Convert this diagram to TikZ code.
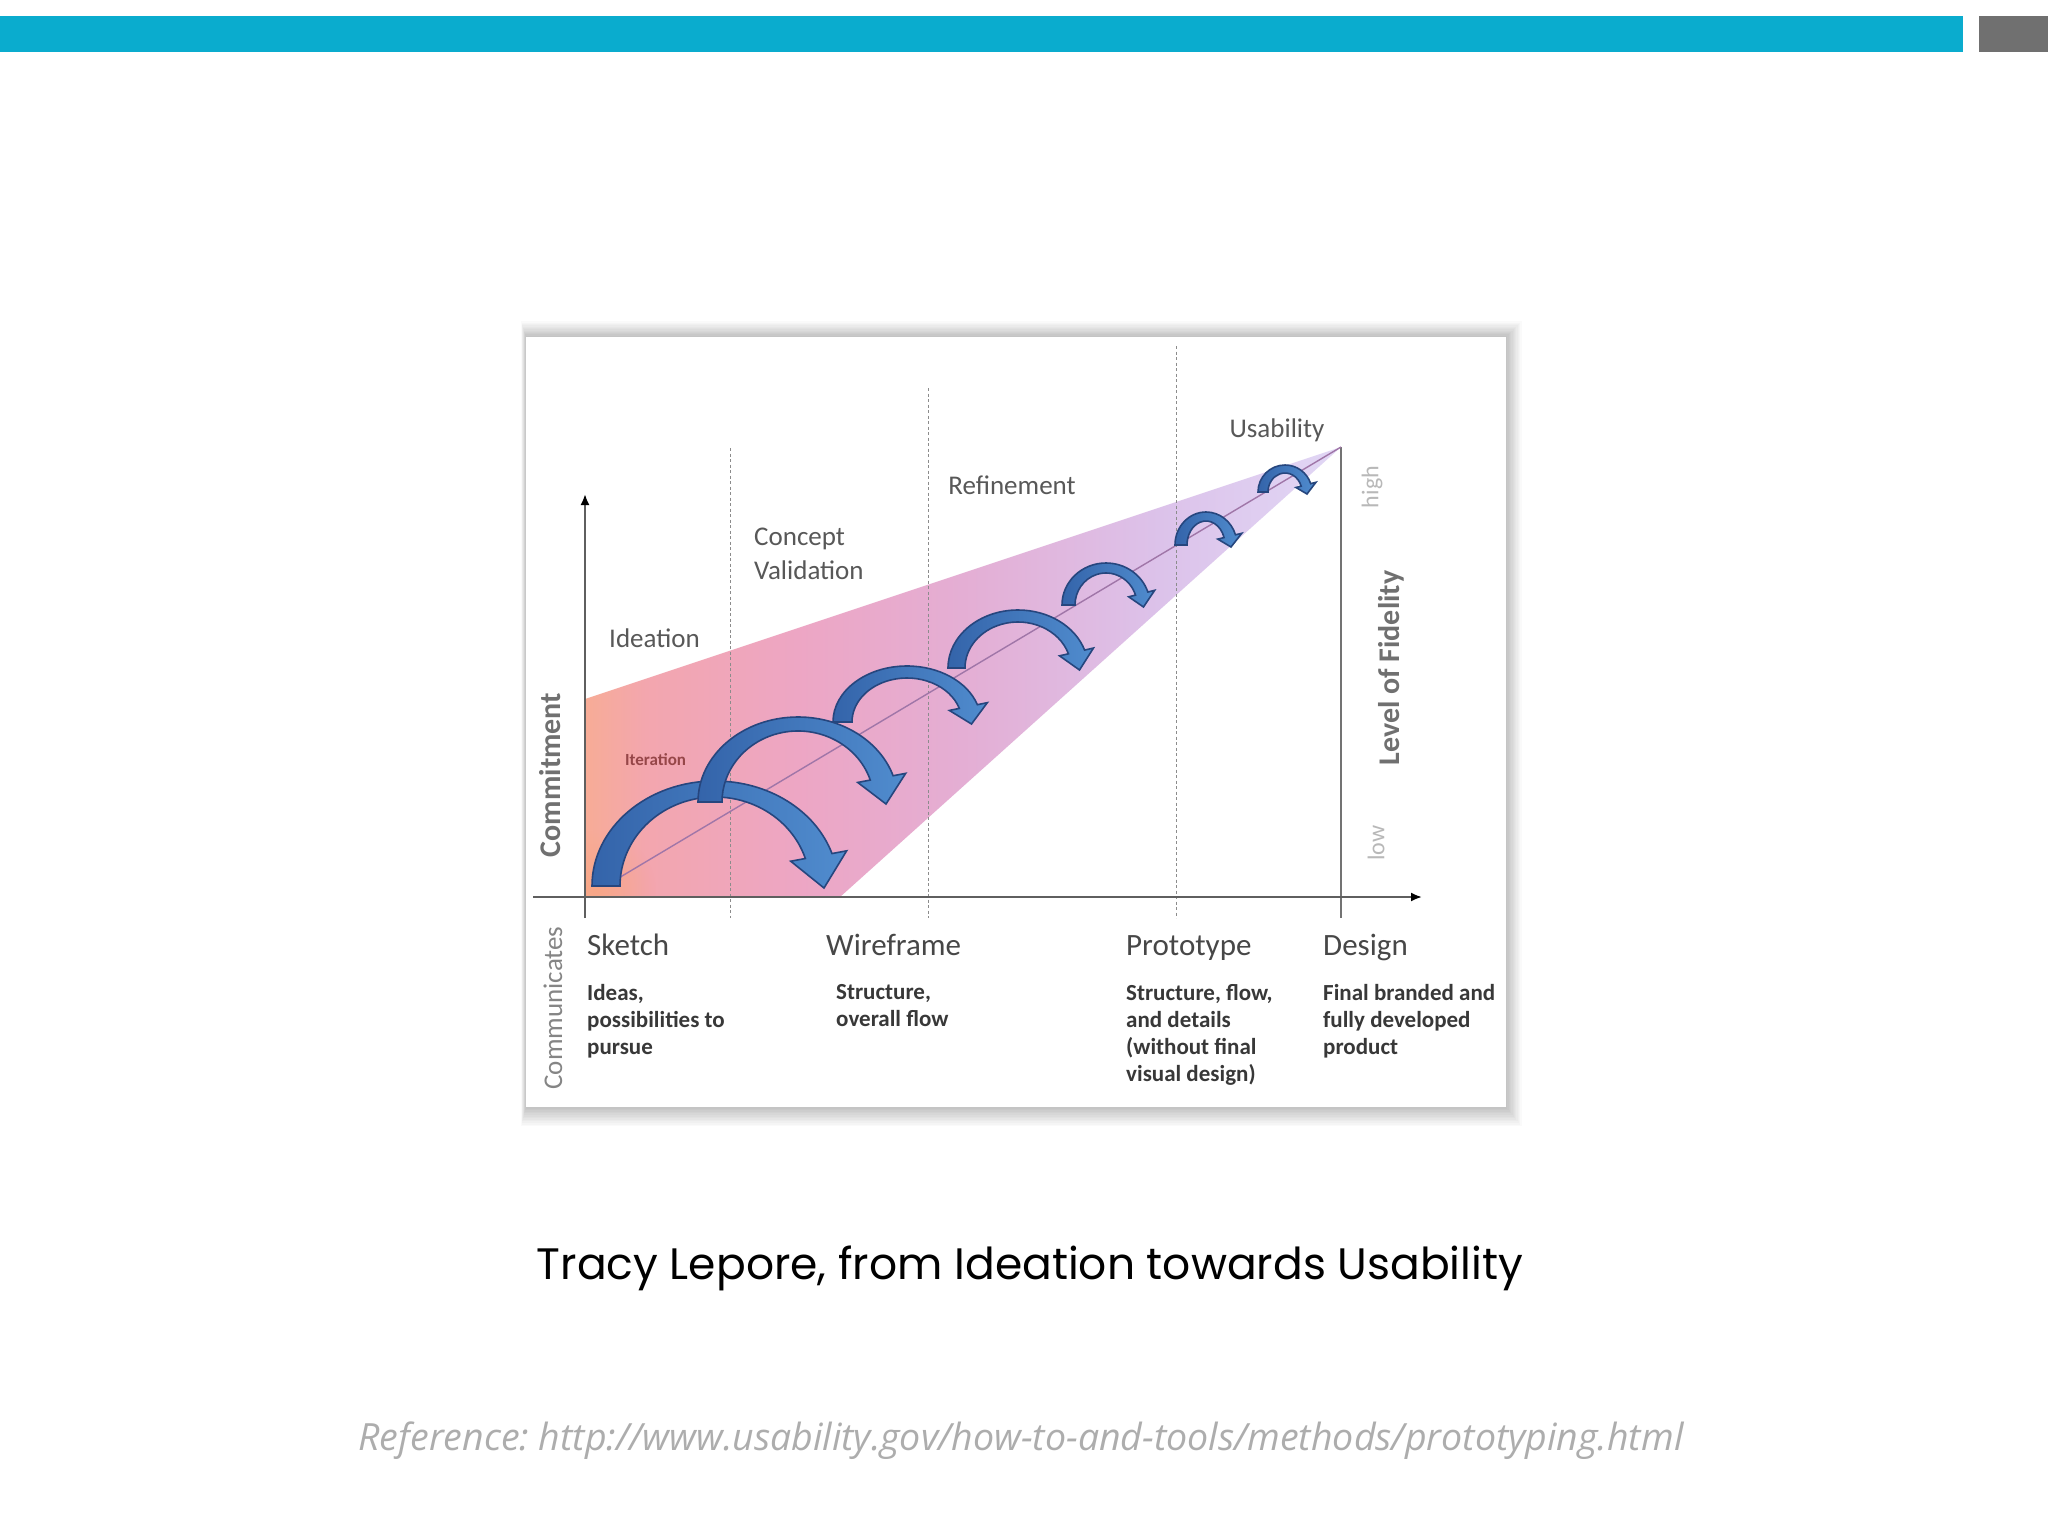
\documentclass[tikz,border=0pt]{standalone}
\usepackage{fontspec}
\setmainfont{Carlito}
\newfontfamily\capfont{Poppins}
\newfontfamily\linkfont{Open Sans}
\usetikzlibrary{arrows.meta,fadings}

\definecolor{barcyan}{RGB}{10,172,206}
\definecolor{bargrey}{RGB}{112,112,112}
\definecolor{labelgrey}{RGB}{88,88,88}
\definecolor{axisgrey}{RGB}{95,95,95}
\definecolor{arrowdark}{RGB}{52,100,170}
\definecolor{arrowlight}{RGB}{80,140,206}
\definecolor{arrowedge}{RGB}{38,70,126}
\definecolor{fpeach}{RGB}{247,172,150}
\definecolor{fsalmon}{RGB}{243,166,174}
\definecolor{fpink}{RGB}{237,166,196}
\definecolor{fmauve}{RGB}{228,174,212}
\definecolor{flilac}{RGB}{220,194,234}
\definecolor{flav}{RGB}{225,215,245}
\definecolor{midline}{RGB}{160,118,168}
\definecolor{iterred}{RGB}{150,70,72}

\pgfdeclarehorizontalshading{funnelshade}{100bp}{color(0bp)=(fpeach); color(25bp)=(fpeach); color(29bp)=(fsalmon); color(39bp)=(fpink); color(50bp)=(fmauve); color(63bp)=(flilac); color(75bp)=(flav); color(100bp)=(flav)}
\tikzfading[name=glowfade,inner color=transparent!0,outer color=transparent!100]

% x, base, half width, height, side and top thickness
\newcommand\iterarrow[6]{%
	\begin{scope}[shift={(#1,#2)}]
	\draw[iterfill] (-#3,0) arc[start angle=180,end angle=342,x radius=#3,y radius=#4]
		-- (342:{#3+0.55*#5} and {#4+0.55*#6})
		-- ({#3-0.5*#5},2)
		-- (342:{#3-1.55*#5} and {#4-1.55*#6})
		-- (342:{#3-#5} and {#4-#6})
		arc[start angle=342,end angle=180,x radius={#3-#5},y radius={#4-#6}]
		-- cycle;
	\end{scope}}

\begin{document}
\begin{tikzpicture}[x=1pt,y=-1pt,
	every node/.style={inner sep=0pt},
	catlabel/.style={text=labelgrey,font=\fontsize{27}{34}\selectfont},
	kindlabel/.style={text=black!72,font=\fontsize{31}{36}\selectfont,anchor=base west},
	desctext/.style={text=black!78,font=\bfseries\fontsize{23}{27}\selectfont,align=left,anchor=north west},
	axislabel/.style={text=black!56,font=\bfseries\fontsize{30}{34}\selectfont,rotate=90},
	guide/.style={black!45,line width=1pt,dash pattern=on 3pt off 2.5pt},
	iterfill/.style={draw=arrowedge,line width=1.6pt,left color=arrowdark,right color=arrowlight}]
	\fill[white] (0,0) rectangle (2048,1536);
	\useasboundingbox (0,0) rectangle (2048,1536);
	\fill[barcyan] (0,16) rectangle (1963,52);
	\fill[bargrey] (1979,16) rectangle (2048,52);

	\foreach \i in {1,...,12}
		\fill[black,opacity=0.02] (526-0.4*\i,337-1.3*\i) rectangle (1506+1.3*\i,1107+1.6*\i);
	\fill[white] (526,337) rectangle (1506,1107);

	\coordinate (o) at (585,897);
	\coordinate (ytop) at (585,494);
	\coordinate (ybot) at (585,918);
	\coordinate (xleft) at (533,897);
	\coordinate (xright) at (1422,897);
	\coordinate (apex) at (1341,447);
	\coordinate (fidbot) at (1341,918);
	\coordinate (funtop) at (585,699);
	\coordinate (funbot) at (840,897);
	\coordinate (midstart) at (612,882);

	\shade[shading=funnelshade] (o) -- (funtop) -- (apex) -- (funbot) -- cycle;
	\begin{scope}
		\clip (o) -- (funtop) -- (apex) -- (funbot) -- cycle;
		\fill[fpeach!80!orange,path fading=glowfade,opacity=0.55] (596,890) circle (60);
	\end{scope}

	\draw[guide] (730,448) -- (730,918);
	\draw[guide] (928,388) -- (928,918);
	\draw[guide] (1176,346) -- (1176,918);
	\draw[black!55,line width=1.3pt] (apex) -- (fidbot);
	\draw[midline,line width=1.4pt] (midstart) -- (apex);

	\draw[axisgrey,line width=2pt] (ybot) -- (o);
	\draw[axisgrey,line width=2pt,-{Latex[length=11pt,width=9pt,color=black]}] (o) -- (ytop);
	\draw[axisgrey,line width=2pt,-{Latex[length=11pt,width=9pt,color=black]}] (xleft) -- (xright);

	\iterarrow{715}{886}{123}{105}{28}{16}
	\iterarrow{798}{802}{100}{85}{24}{14}
	\iterarrow{907}{722}{74}{56}{19}{12}
	\iterarrow{1018}{668}{70}{58}{17}{12}
	\iterarrow{1106}{605}{44}{42}{13}{10}
	\iterarrow{1206}{545}{31}{33}{12}{9}
	\iterarrow{1285}{492}{27}{27}{10}{8}

	\node[catlabel,anchor=base] (usability) at (1277,437) {Usability};
	\node[catlabel,anchor=base] (refinement) at (1012,494) {Refinement};
	\node[catlabel,anchor=north west,align=left] (concept) at (754,528) {Concept\\Validation};
	\node[catlabel,anchor=base west] (ideation) at (609,647) {Ideation};
	\node[text=iterred,font=\bfseries\fontsize{17}{20}\selectfont,anchor=base west] (iteration) at (625,765) {Iteration};

	\node[axislabel] (commit) at (550,775) {Commitment};
	\node[axislabel,font=\fontsize{27}{30}\selectfont,text=black!48] (communic) at (553,1008) {Communicates};
	\node[axislabel] (fidelity) at (1391,668) {Level of Fidelity};
	\node[axislabel,font=\fontsize{24}{28}\selectfont,text=black!28] (high) at (1372,487) {high};
	\node[axislabel,font=\fontsize{24}{28}\selectfont,text=black!28] (low) at (1376,843) {low};

	\node[kindlabel] (sketch) at (587,955) {Sketch};
	\node[kindlabel] (wireframe) at (826,955) {Wireframe};
	\node[kindlabel] (prototype) at (1126,955) {Prototype};
	\node[kindlabel] (design) at (1323,955) {Design};

	\node[desctext] (sketchdesc) at (587,984) {Ideas,\\possibilities to\\pursue};
	\node[desctext] (wiredesc) at (836,984) {Structure,\\overall flow};
	\node[desctext] (protodesc) at (1126,984) {Structure, flow,\\and details\\(without final\\visual design)};
	\node[desctext] (designdesc) at (1323,984) {Final branded and\\fully developed\\product};

	\node[font=\capfont\fontsize{44}{52}\selectfont,anchor=base] (caption) at (1030,1279) {Tracy Lepore, from Ideation towards Usability};
	\node[font=\linkfont\itshape\frenchspacing\fontsize{37.5}{44}\selectfont,text=black!32,anchor=base] (reflink) at (1021,1450) {Reference: http://www.usability.gov/how-to-and-tools/methods/prototyping.html};
\end{tikzpicture}
\end{document}
